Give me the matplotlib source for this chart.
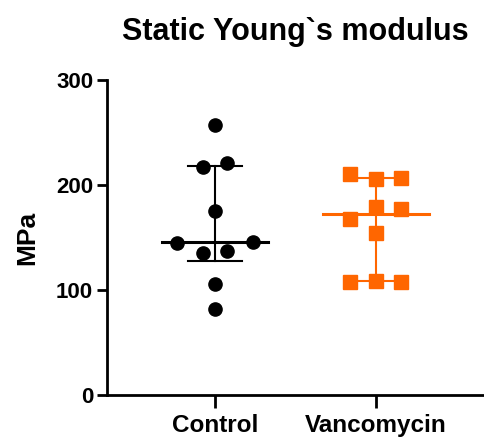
import matplotlib.pyplot as plt
import numpy as np

# Values (MPa)
groups = ["Control", "Vancomycin"]
control = [257, 217, 221, 175, 145, 146, 135, 137, 106, 82]
vancomycin = [210, 206, 207, 179, 177, 168, 154, 108, 109, 108]

# horizontal scatter offsets of the points within each column
control_dx = [0, -0.075, 0.075, 0, -0.236, 0.236, -0.075, 0.075, 0, 0]
vanco_dx = [-0.16, 0, 0.155, 0, 0.155, -0.16, 0, -0.16, 0, 0.155]

colors = ["black", "#FF6600"]
markers = ["o", "s"]

plt.rcParams['font.family'] = ['Liberation Sans', 'DejaVu Sans']
plt.rcParams['font.weight'] = 'bold'

fig = plt.figure(figsize=(4.84, 4.37), dpi=100)
ax = fig.add_axes([0.221, 0.096, 0.779, 0.721])

for i, (vals, dx) in enumerate([(control, control_dx), (vancomycin, vanco_dx)]):
    vals = np.array(vals)
    med = np.median(vals)
    q1, q3 = np.percentile(vals, [25, 75], method='weibull')
    c = colors[i]
    ax.plot([i, i], [q1, q3], color=c, lw=1.5, zorder=2)
    ax.plot([i - 0.167, i + 0.167], [q1, q1], color=c, lw=1.5, zorder=2)
    ax.plot([i - 0.167, i + 0.167], [q3, q3], color=c, lw=1.5, zorder=2)
    ax.plot([i - 0.33, i + 0.33], [med, med], color=c, lw=2.2, zorder=2)
    ax.plot(i + np.array(dx), vals, linestyle='none', marker=markers[i],
            color=c, markersize=9.5, zorder=3)

ax.set_xlim(-0.67, 1.67)
ax.set_ylim(0, 300)
ax.set_yticks([0, 100, 200, 300])
ax.set_xticks([0, 1])
ax.set_xticklabels(groups)

for s in ["top", "right"]:
    ax.spines[s].set_visible(False)
for s in ["left", "bottom"]:
    ax.spines[s].set_linewidth(2)
ax.tick_params(axis='both', width=2, length=7, labelsize=16, pad=3)
ax.tick_params(axis='x', length=9, labelsize=17.5, pad=5)

ax.set_ylabel("MPa", fontsize=19, fontweight='bold', labelpad=12)
fig.text(0.61, 0.927, "Static Young`s modulus", fontsize=22, fontweight='bold',
         ha='center', va='center')

plt.savefig('out.png', dpi=100)
plt.close()
